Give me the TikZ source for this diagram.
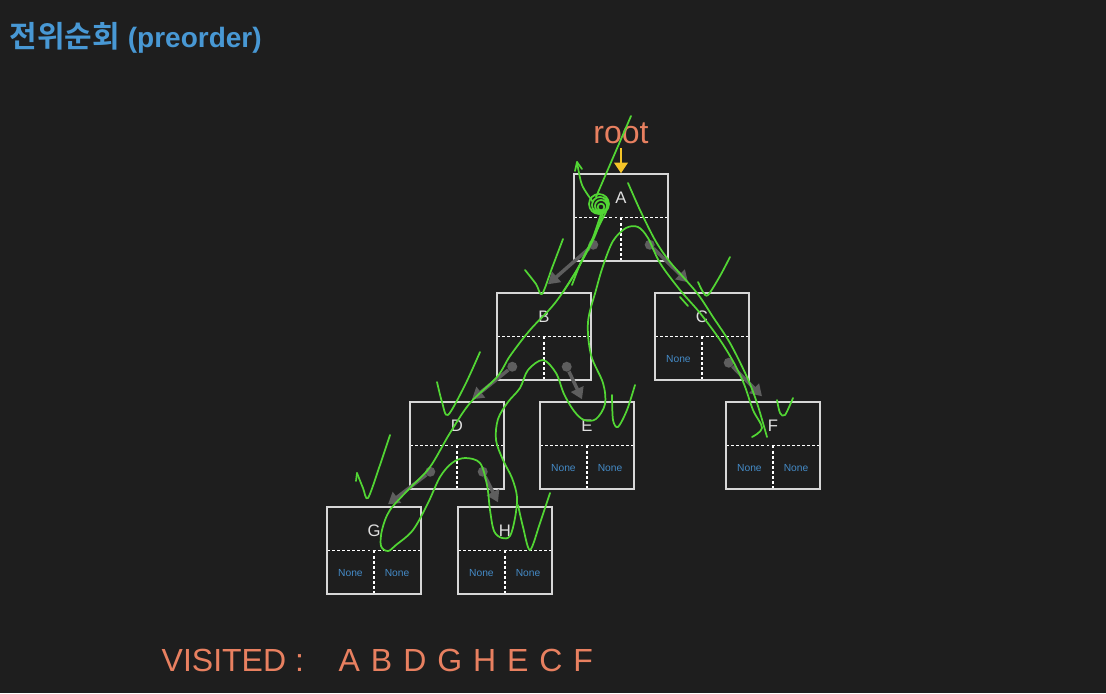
\documentclass[tikz,border=0pt]{standalone}
\usepackage{fontspec}
\setmainfont{Liberation Sans}
\newfontfamily\kor{Noto Sans CJK KR}[BoldFont={Noto Sans CJK KR Bold}]
\usetikzlibrary{arrows.meta}
\definecolor{bg}{RGB}{30,30,30}
\definecolor{titleblue}{RGB}{72,152,212}
\definecolor{noneblue}{RGB}{68,138,198}
\definecolor{salmon}{RGB}{232,128,96}
\definecolor{gold}{RGB}{245,196,40}
\definecolor{boxc}{RGB}{215,215,215}
\definecolor{ptrc}{RGB}{94,94,94}
\definecolor{penc}{RGB}{82,214,52}

\begin{document}
\begin{tikzpicture}[x=0.75pt,y=-0.75pt,
  sep/.style={white,line width=1pt,dash pattern=on 2.2pt off 1.6pt},
  key/.style={text=white!88!black,font=\fontsize{12.5}{14}\selectfont},
  nonetxt/.style={text=noneblue,font=\fontsize{7.7}{9}\selectfont},
  tbox/.style={draw=boxc,line width=1.1pt,minimum width=70.5pt,minimum height=65.25pt,inner sep=0pt,
    path picture={\draw[sep] (path picture bounding box.west) -- (path picture bounding box.east)
      (path picture bounding box.center) -- (path picture bounding box.south);},
    label={[key,yshift=14.6pt]center:#1}},
  nl/.style={label={[nonetxt,xshift=-17.7pt,yshift=-16.9pt]center:None}},
  nr/.style={label={[nonetxt,xshift=17.3pt,yshift=-16.9pt]center:None}},
  dot/.style={circle,fill=ptrc,minimum size=7.5pt,inner sep=0pt},
  ptr/.style={ptrc,line width=2.6pt,-{Triangle[length=8.5pt,width=10pt]}},
  scrib/.style={penc,line width=1.3pt,line cap=round,line join=round}]
\fill[bg] (0,0) rectangle (1106,693);
\useasboundingbox (0,0) rectangle (1106,693);

\node[anchor=west,text=titleblue,font=\fontsize{21}{25}\selectfont] (title) at (5,38)
  {{\kor\bfseries\fontsize{22.5}{26}\selectfont 전위순회} \textbf{(preorder)}};

\node[tbox=A] (A) at (621,217.5) {};
\node[tbox=B] (B) at (544,336.5) {};
\node[tbox=C,nl] (C) at (702,336.5) {};
\node[tbox=D] (D) at (457,445.5) {};
\node[tbox=E,nl,nr] (E) at (587,445.5) {};
\node[tbox=F,nl,nr] (F) at (773,445.5) {};
\node[tbox=G,nl,nr] (G) at (374,550.5) {};
\node[tbox=H,nl,nr] (H) at (505,550.5) {};

\node[dot] (Al) at ([shift={(20,-17)}]A.south west) {};
\node[dot] (Ar) at ([shift={(-19,-17)}]A.south east) {};
\node[dot] (Bl) at ([shift={(16,-14)}]B.south west) {};
\node[dot] (Br) at ([shift={(-25,-14)}]B.south east) {};
\node[dot] (Cr) at ([shift={(-21,-18)}]C.south east) {};
\node[dot] (Dl) at ([shift={(21,-18)}]D.south west) {};
\node[dot] (Dr) at ([shift={(-22,-18)}]D.south east) {};
\foreach \p/\c/\dx/\dy in {Al/B/4/-8, Ar/C/-14/-10, Bl/D/15/-2, Br/E/-5/-2, Cr/F/-11/-5, Dl/G/14/-2, Dr/H/-7/-4}
  \draw[ptr] (\p) -- ([shift={(\dx,\dy)}]\c.north);

\node[text=salmon,font=\fontsize{24}{28}\selectfont] (root) at (621,133) {root};
\draw[gold,line width=2.2pt,-{Triangle[length=8pt,width=10pt]}] (root) -- (A);

\node[anchor=west,text=salmon,font=\fontsize{24}{28}\selectfont] (visited) at (157,660) {VISITED :};
\node[anchor=west,text=salmon,font=\fontsize{24}{28}\selectfont] (order) at (334,660)
  {\spaceskip=8.2pt A B D G H E C F};

\draw[scrib] plot[smooth,tension=0.55] coordinates {(606,212) (592,240) (577,270) (555,303) (530,330) (510,356)
  (497,377) (470,403) (450,433) (430,467) (410,488) (390,510) (382,530) (381,546) (388,551) (396,545)
  (413,530) (428,503) (440,477) (452,463) (465,458) (480,463) (487,485) (490,510) (494,531) (502,538)
  (510,536) (515,518) (517,497) (512,478) (503,460) (496,440) (498,419) (508,402) (520,388) (528,370)
  (543,360) (556,373) (564,394) (574,411) (584,420) (596,419) (605,404) (603,383) (591,355) (588,322)
  (596,290) (603,266) (613,241) (626,228) (638,227) (648,238) (660,263) (680,290) (700,313) (720,340)
  (734,363) (744,384) (753,410) (762,428) (752,437)};
\draw[scrib] plot[smooth] coordinates {(628,183) (640,210) (655,240) (670,262) (697,293) (713,317) (730,343)
  (747,377) (757,403) (767,437)};
\draw[scrib] plot[smooth] coordinates {(631,116) (612,160) (596,197)};
\draw[scrib] plot[smooth] coordinates {(577,162) (582,185) (593,202)};
\draw[scrib] (577,162) -- (575,171) (577,162) -- (582,169);
\draw[scrib] plot[smooth] coordinates {(601,214) (592,240) (581,262) (572,285)};
\draw[scrib] plot[smooth] coordinates {(603,213) (594,238) (578,268) (563,292)};
\draw[scrib] (599,204) circle[radius=7.5pt] (600,205) circle[radius=6pt] (601,206) circle[radius=4.5pt]
  (601,207) circle[radius=2.5pt];
\draw[scrib] (680,297) -- (688,306);

\draw[scrib] plot[smooth] coordinates {(525,270) (536,284) (542,294) (552,268) (563,239)};
\draw[scrib] plot[smooth] coordinates {(698,282) (703,292) (708,295) (720,276) (730,257)};
\draw[scrib] plot[smooth] coordinates {(437,382) (442,402) (448,415) (465,385) (480,352)};
\draw[scrib] plot[smooth] coordinates {(357,473) (363,488) (368,498) (380,465) (390,435)};
\draw[scrib] (357,473) -- (356,481);
\draw[scrib] plot[smooth] coordinates {(518,505) (523,527) (530,550) (540,523) (550,493)};
\draw[scrib] plot[smooth] coordinates {(612,395) (613,420) (618,427) (627,410) (635,385)};
\draw[scrib] plot[smooth] coordinates {(777,400) (780,413) (785,415) (793,398)};
\end{tikzpicture}
\end{document}
